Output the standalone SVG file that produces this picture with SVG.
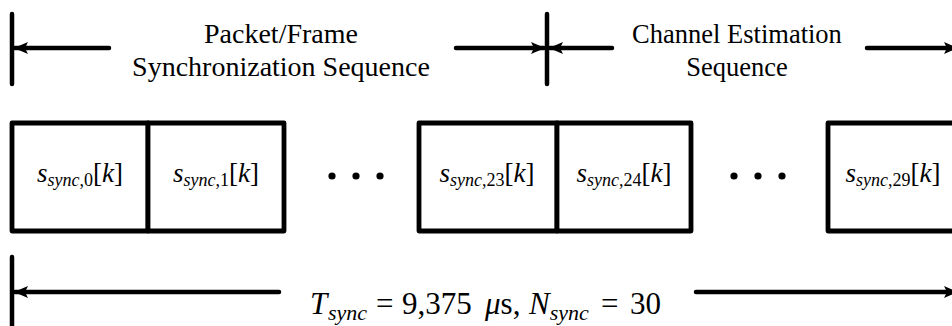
<svg xmlns="http://www.w3.org/2000/svg" width="952" height="326" viewBox="0 0 952 326">
<defs>
<style>
.ln{stroke:#000;stroke-width:4.5;stroke-linecap:round;fill:none}
.bx{stroke:#000;stroke-width:4.8;fill:#fff;stroke-linejoin:round}
.t{font-family:"Liberation Serif","Times New Roman",serif;fill:#000}
.lbl{font-size:26.5px;text-anchor:middle}
.lbl2{font-size:28px;text-anchor:middle}
.m{font-size:27px;text-anchor:middle}
.eq{font-size:31px}
.i{font-style:italic}
.sub{font-size:18px;font-style:italic}
.sub2{font-size:22px;font-style:italic}
.subn{font-size:18px}
</style>
<marker id="ah" viewBox="0 0 14 12" refX="13" refY="6" markerWidth="14" markerHeight="12" markerUnits="userSpaceOnUse" orient="auto">
<path d="M0,0 L14,6 L0,12 L3,6 Z" fill="#000"/>
</marker>
</defs>

<g id="connectors">
<line class="ln" x1="12" y1="14" x2="12" y2="84"/>
<line class="ln" x1="109" y1="48" x2="15" y2="48" marker-end="url(#ah)"/>
<line class="ln" x1="547" y1="14" x2="547" y2="84"/>
<line class="ln" x1="456" y1="48" x2="544" y2="48" marker-end="url(#ah)"/>
<line class="ln" x1="612" y1="48" x2="550" y2="48" marker-end="url(#ah)"/>
<line class="ln" x1="867" y1="48" x2="957" y2="48" marker-end="url(#ah)"/>
<line class="ln" x1="12" y1="257" x2="12" y2="330"/>
<line class="ln" x1="279" y1="292" x2="15" y2="292" marker-end="url(#ah)"/>
<line class="ln" x1="696" y1="292" x2="957" y2="292" marker-end="url(#ah)"/>
</g>

<g id="label-sync">
<text class="t lbl2" x="281" y="43">Packet/Frame</text>
<text class="t lbl2" x="281" y="76">Synchronization Sequence</text>
</g>
<g id="label-ce">
<text class="t lbl" x="737" y="43">Channel Estimation</text>
<text class="t lbl" x="737" y="76">Sequence</text>
</g>

<g id="box0">
<rect class="bx" x="12" y="123" width="136" height="108"/>
<text class="t m" x="80" y="182"><tspan class="i">s</tspan><tspan class="sub" dy="4">sync</tspan><tspan class="subn">,0</tspan><tspan dy="-4">[</tspan><tspan class="i">k</tspan>]</text>
</g>
<g id="box1">
<rect class="bx" x="148" y="123" width="136" height="108"/>
<text class="t m" x="216" y="182"><tspan class="i">s</tspan><tspan class="sub" dy="4">sync</tspan><tspan class="subn">,1</tspan><tspan dy="-4">[</tspan><tspan class="i">k</tspan>]</text>
</g>
<g id="dots1">
<circle cx="332" cy="176" r="3.6"/>
<circle cx="356" cy="176" r="3.6"/>
<circle cx="380" cy="176" r="3.6"/>
</g>
<g id="box23">
<rect class="bx" x="419" y="123" width="138" height="108"/>
<text class="t m" x="487" y="182"><tspan class="i">s</tspan><tspan class="sub" dy="4">sync</tspan><tspan class="subn">,23</tspan><tspan dy="-4">[</tspan><tspan class="i">k</tspan>]</text>
</g>
<g id="box24">
<rect class="bx" x="557" y="123" width="134" height="108"/>
<text class="t m" x="624" y="182"><tspan class="i">s</tspan><tspan class="sub" dy="4">sync</tspan><tspan class="subn">,24</tspan><tspan dy="-4">[</tspan><tspan class="i">k</tspan>]</text>
</g>
<g id="dots2">
<circle cx="734" cy="176" r="3.6"/>
<circle cx="758" cy="176" r="3.6"/>
<circle cx="782" cy="176" r="3.6"/>
</g>
<g id="box29">
<rect class="bx" x="828" y="123" width="140" height="108"/>
<text class="t m" x="893" y="182"><tspan class="i">s</tspan><tspan class="sub" dy="4">sync</tspan><tspan class="subn">,29</tspan><tspan dy="-4">[</tspan><tspan class="i">k</tspan>]</text>
</g>

<g id="label-total">
<text class="t eq" y="314"><tspan class="i" x="310">T</tspan><tspan class="sub2" x="328" dy="6">sync</tspan><tspan x="376" dy="-6">=</tspan><tspan x="402">9,375</tspan><tspan class="i" x="485">μ</tspan>s,<tspan class="i" x="529">N</tspan><tspan class="sub2" dy="6">sync</tspan><tspan x="601" dy="-6">=</tspan><tspan x="630">30</tspan></text>
</g>
</svg>
